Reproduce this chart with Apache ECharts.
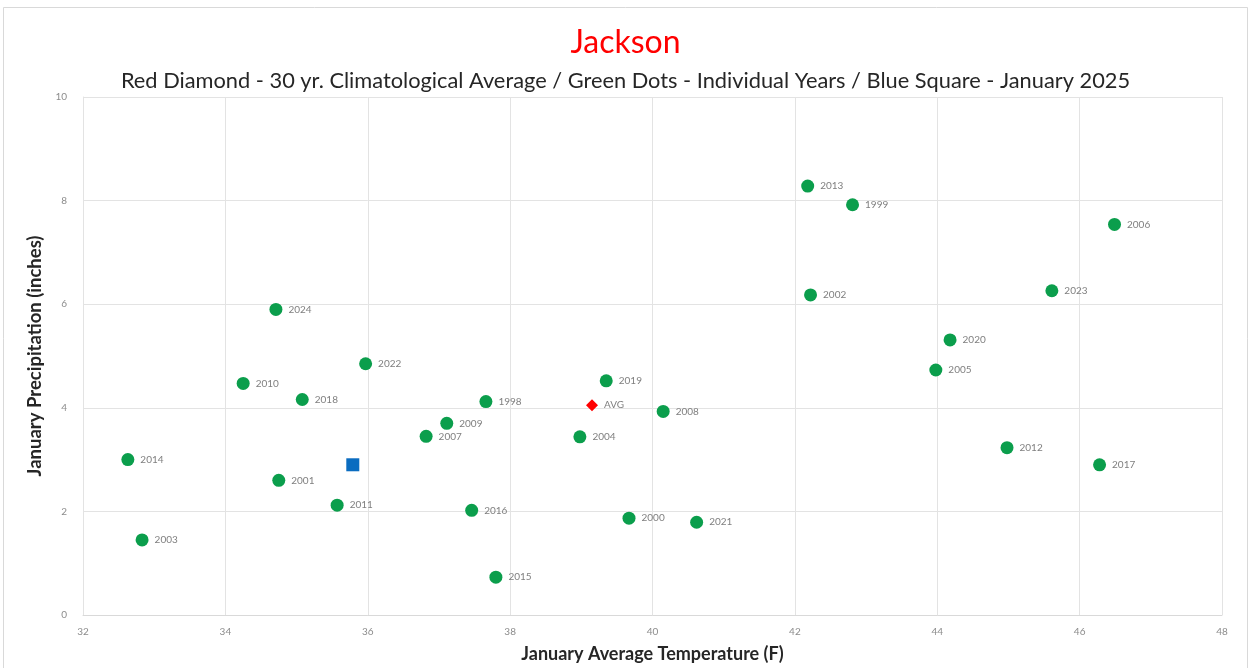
<!DOCTYPE html>
<html>
<head>
<meta charset="utf-8">
<script src="https://cdn.jsdelivr.net/npm/echarts@6/dist/echarts.min.js"></script>
<style>
  html, body { margin: 0; padding: 0; background: #ffffff; overflow: hidden; }
  #chart { width: 1251px; height: 668px; }
</style>
</head>
<body>
<div id="chart"></div>
<script>
// January average temperature (F) and precipitation (in) for individual years
const yearLabels = ['2013', '1999', '2006', '2002', '2023', '2024', '2020', '2005', '2022', '2010',
  '2019', '2018', '1998', '2008', '2009', '2007', '2004', '2014', '2012', '2017',
  '2001', '2011', '2016', '2000', '2021', '2003', '2015'];
const yearTemps = [42.18, 42.81, 46.49, 42.22, 45.61, 34.71, 44.18, 43.98, 35.97, 34.25,
  39.35, 35.08, 37.66, 40.15, 37.11, 36.82, 38.98, 32.63, 44.98, 46.28,
  34.75, 35.57, 37.46, 39.67, 40.62, 32.83, 37.80];
const yearPrecip = [8.28, 7.92, 7.54, 6.18, 6.26, 5.90, 5.31, 4.73, 4.85, 4.47,
  4.52, 4.16, 4.12, 3.93, 3.70, 3.45, 3.44, 3.00, 3.23, 2.90,
  2.60, 2.12, 2.02, 1.87, 1.79, 1.45, 0.73];

// 30-year climatological average
const avgTemp = 39.15;
const avgPrecip = 4.05;

// January 2025
const currentTemp = 35.79;
const currentPrecip = 2.90;

// Axis ranges
const xMin = 32, xMax = 48, xStep = 2;
const yMin = 0, yMax = 10, yStep = 2;

const chart = echarts.init(document.getElementById('chart'));
const fontFamily = 'Lato, "Liberation Sans", Arial, sans-serif';
const labelStyle = { show: true, position: 'right', distance: 6, color: '#7f7f7f', fontSize: 10, fontFamily };

chart.setOption({
  backgroundColor: '#ffffff',
  animation: false,
  graphic: [{
    type: 'rect',
    shape: { x: 3.5, y: 7.5, width: 1244, height: 680 },
    style: { fill: 'none', stroke: '#d9d9d9', lineWidth: 1 },
    silent: true
  }],
  title: [{
    text: 'Jackson',
    left: 'center',
    top: 22,
    textStyle: { color: '#ff0000', fontSize: 32, fontWeight: 'normal', fontFamily }
  }, {
    text: 'Red Diamond - 30 yr. Climatological Average / Green Dots - Individual Years / Blue Square - January 2025',
    left: 'center',
    top: 65,
    textStyle: { color: '#262626', fontSize: 21.8, fontWeight: 'normal', fontFamily }
  }],
  grid: { left: 83, right: 29, top: 97, bottom: 47, containLabel: false },
  xAxis: {
    type: 'value',
    min: xMin, max: xMax, interval: xStep,
    name: 'January Average Temperature (F)',
    nameLocation: 'middle',
    nameGap: 30,
    nameTextStyle: { color: '#262626', fontSize: 18, fontWeight: 'bold', fontFamily },
    axisLine: { show: true, lineStyle: { color: '#d9d9d9', width: 1 } },
    axisTick: { show: false },
    axisLabel: { color: '#8c8c8c', fontSize: 10, margin: 12, fontFamily },
    splitLine: { show: true, lineStyle: { color: '#e3e3e3', width: 1 } }
  },
  yAxis: {
    type: 'value',
    min: yMin, max: yMax, interval: yStep,
    name: 'January Precipitation (inches)',
    nameLocation: 'middle',
    nameGap: 33,
    nameRotate: 90,
    nameTextStyle: { color: '#262626', fontSize: 18.5, fontWeight: 'bold', fontFamily },
    axisLine: { show: true, lineStyle: { color: '#e3e3e3', width: 1 } },
    axisTick: { show: false },
    axisLabel: { color: '#8c8c8c', fontSize: 10, margin: 16, fontFamily },
    splitLine: { show: true, lineStyle: { color: '#e3e3e3', width: 1 } }
  },
  series: [{
    name: 'Individual Years',
    type: 'scatter',
    symbol: 'circle',
    symbolSize: 13,
    itemStyle: { color: '#0b9e4c', opacity: 1 },
    label: { ...labelStyle, formatter: p => p.value[2] },
    data: yearTemps.map((t, i) => [t, yearPrecip[i], yearLabels[i]])
  }, {
    name: 'Average',
    type: 'scatter',
    symbol: 'diamond',
    symbolSize: 12,
    itemStyle: { color: '#ff0000', opacity: 1 },
    label: { ...labelStyle, formatter: 'AVG' },
    data: [[avgTemp, avgPrecip]]
  }, {
    name: 'January 2025',
    type: 'scatter',
    symbol: 'rect',
    symbolSize: 13,
    itemStyle: { color: '#0a6cc0', opacity: 1 },
    data: [[currentTemp, currentPrecip]]
  }]
});
</script>
</body>
</html>
